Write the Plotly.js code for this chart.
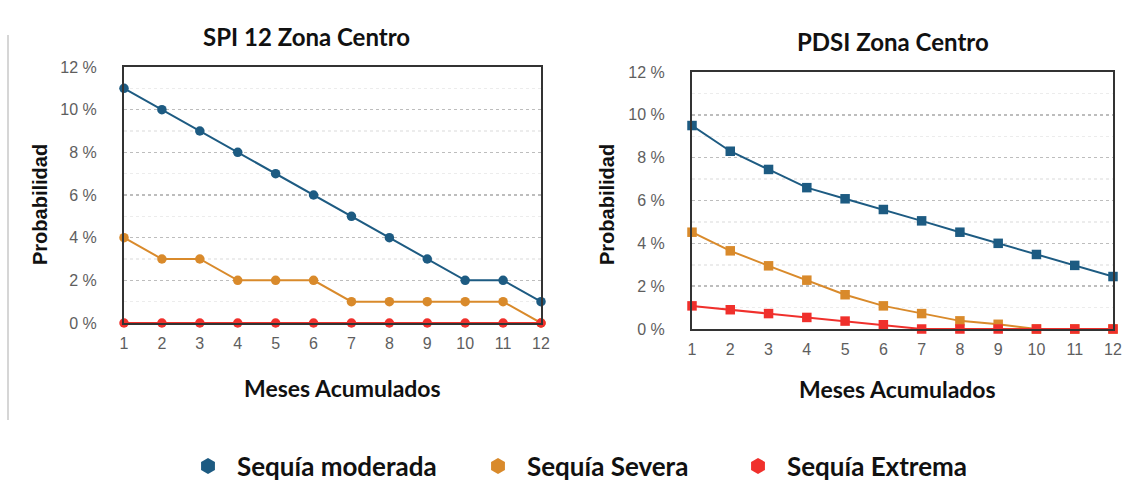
<!DOCTYPE html>
<html><head><meta charset="utf-8">
<script src="https://cdn.plot.ly/plotly-3.0.1.min.js"></script>
<style>html,body{margin:0;padding:0;background:#fff}#chart{width:1130px;height:491px}</style>
</head><body><div id="chart"></div>
<script>
const meses = [1,2,3,4,5,6,7,8,9,10,11,12];
const seriesNames = ['Sequía moderada', 'Sequía Severa', 'Sequía Extrema'];
const spiModerada = [11,10,9,8,7,6,5,4,3,2,2,1];
const spiSevera   = [4,3,3,2,2,2,1,1,1,1,1,0];
const spiExtrema  = [0,0,0,0,0,0,0,0,0,0,0,0];
const pdsiModerada = [9.5,8.3,7.45,6.6,6.08,5.58,5.05,4.52,4.0,3.48,2.97,2.45];
const pdsiSevera   = [4.52,3.65,2.95,2.28,1.6,1.08,0.72,0.38,0.22,0,0,0];
const pdsiExtrema  = [1.08,0.9,0.72,0.54,0.37,0.2,0,0,0,0,0,0];
const colors = ['#1d5b82', '#d98a2b', '#f0302c'];

function tr(y, i, xa, ya, sym) {
  return {x: meses, y: y, xaxis: xa, yaxis: ya, mode: 'lines+markers', type: 'scatter',
    name: seriesNames[i], showlegend: false, cliponaxis: false,
    line: {color: colors[i], width: 2},
    marker: {color: colors[i], size: 9.5, symbol: sym}};
}
const data = [
  tr(spiModerada, 0, 'x', 'y', 'circle'),
  tr(spiSevera, 1, 'x', 'y', 'circle'),
  tr(spiExtrema, 2, 'x', 'y', 'circle'),
  tr(pdsiModerada, 0, 'x2', 'y2', 'square'),
  tr(pdsiSevera, 1, 'x2', 'y2', 'square'),
  tr(pdsiExtrema, 2, 'x2', 'y2', 'square')
];
['legend','legend2','legend3'].forEach((lg, i) => {
  data.push({x: [null], y: [null], xaxis: 'x', yaxis: 'y', mode: 'markers', type: 'scatter',
    name: seriesNames[i], legend: lg, showlegend: true,
    marker: {color: colors[i], size: 16, symbol: 'hexagon'}});
});

const tickFont = {family: 'Liberation Sans, Arial, sans-serif', size: 16, color: '#5e5e5e'};
function xax(dom) {
  return {domain: dom, range: [1, 12], tickvals: meses, ticks: '', showgrid: false, zeroline: false,
    showline: true, linecolor: '#333', linewidth: 2, mirror: true, tickfont: tickFont,
    ticklabelstandoff: 5, fixedrange: true};
}
function yax(dom, anchor) {
  return {domain: dom, anchor: anchor, range: [0, 12], dtick: 2, ticksuffix: ' %', ticks: '',
    showline: true, linecolor: '#333', linewidth: 2, mirror: true, zeroline: false,
    showgrid: true, gridcolor: '#bdbdbd', griddash: 'dot', gridwidth: 1.5,
    minor: {dtick: 1, showgrid: true, gridcolor: '#ececec', gridwidth: 1.5},
    tickfont: tickFont, ticklabelstandoff: 22, fixedrange: true};
}
const titleFont = {family: 'Lato, Calibri, sans-serif', size: 24, color: '#111', weight: 'bold'};
const axFont = {family: 'Lato, Calibri, sans-serif', size: 23, color: '#111', weight: 'bold'};
const yFont = {family: 'Liberation Sans, Arial, sans-serif', size: 20, color: '#111', weight: 'bold'};
const legFont = {family: 'Lato, Calibri, sans-serif', size: 26, color: '#111', weight: 'bold'};
function leg(x) {
  return {orientation: 'h', x: x, xanchor: 'left', y: 1 - 466/491, yanchor: 'middle', font: legFont,
    itemwidth: 48, bgcolor: 'rgba(0,0,0,0)', itemclick: false, itemdoubleclick: false};
}
function ann(text, x, y, font, angle) {
  return {text: text, x: x/1130, y: 1 - y/491, xref: 'paper', yref: 'paper', xanchor: 'center',
    yanchor: 'middle', showarrow: false, font: font, textangle: angle || 0};
}
const layout = {
  width: 1130, height: 491, margin: {l: 0, r: 0, t: 0, b: 0},
  paper_bgcolor: '#fff', plot_bgcolor: '#fff',
  xaxis: Object.assign(xax([124/1130, 541/1130]), {anchor: 'y'}),
  yaxis: yax([1 - 323/491, 1 - 67/491], 'x'),
  xaxis2: Object.assign(xax([692/1130, 1113/1130]), {anchor: 'y2'}),
  yaxis2: yax([1 - 329/491, 1 - 72/491], 'x2'),
  legend: leg(179/1130), legend2: leg(469/1130), legend3: leg(729/1130),
  annotations: [
    ann('SPI 12 Zona Centro', 306, 37, titleFont),
    ann('PDSI Zona Centro', 893, 41, titleFont),
    ann('Meses Acumulados', 342, 388, axFont),
    ann('Meses Acumulados', 897, 389, axFont),
    ann('Probabilidad', 40, 205, yFont, -90),
    ann('Probabilidad', 607, 205, yFont, -90)
  ],
  shapes: [
    {type: 'line', xref: 'paper', yref: 'paper', x0: 8/1130, x1: 8/1130, y0: 1 - 35/491, y1: 1 - 420/491,
     line: {color: '#c8c8c8', width: 1.5}}
  ]
};
Plotly.newPlot('chart', data, layout, {displayModeBar: false, staticPlot: true});
</script></body></html>
